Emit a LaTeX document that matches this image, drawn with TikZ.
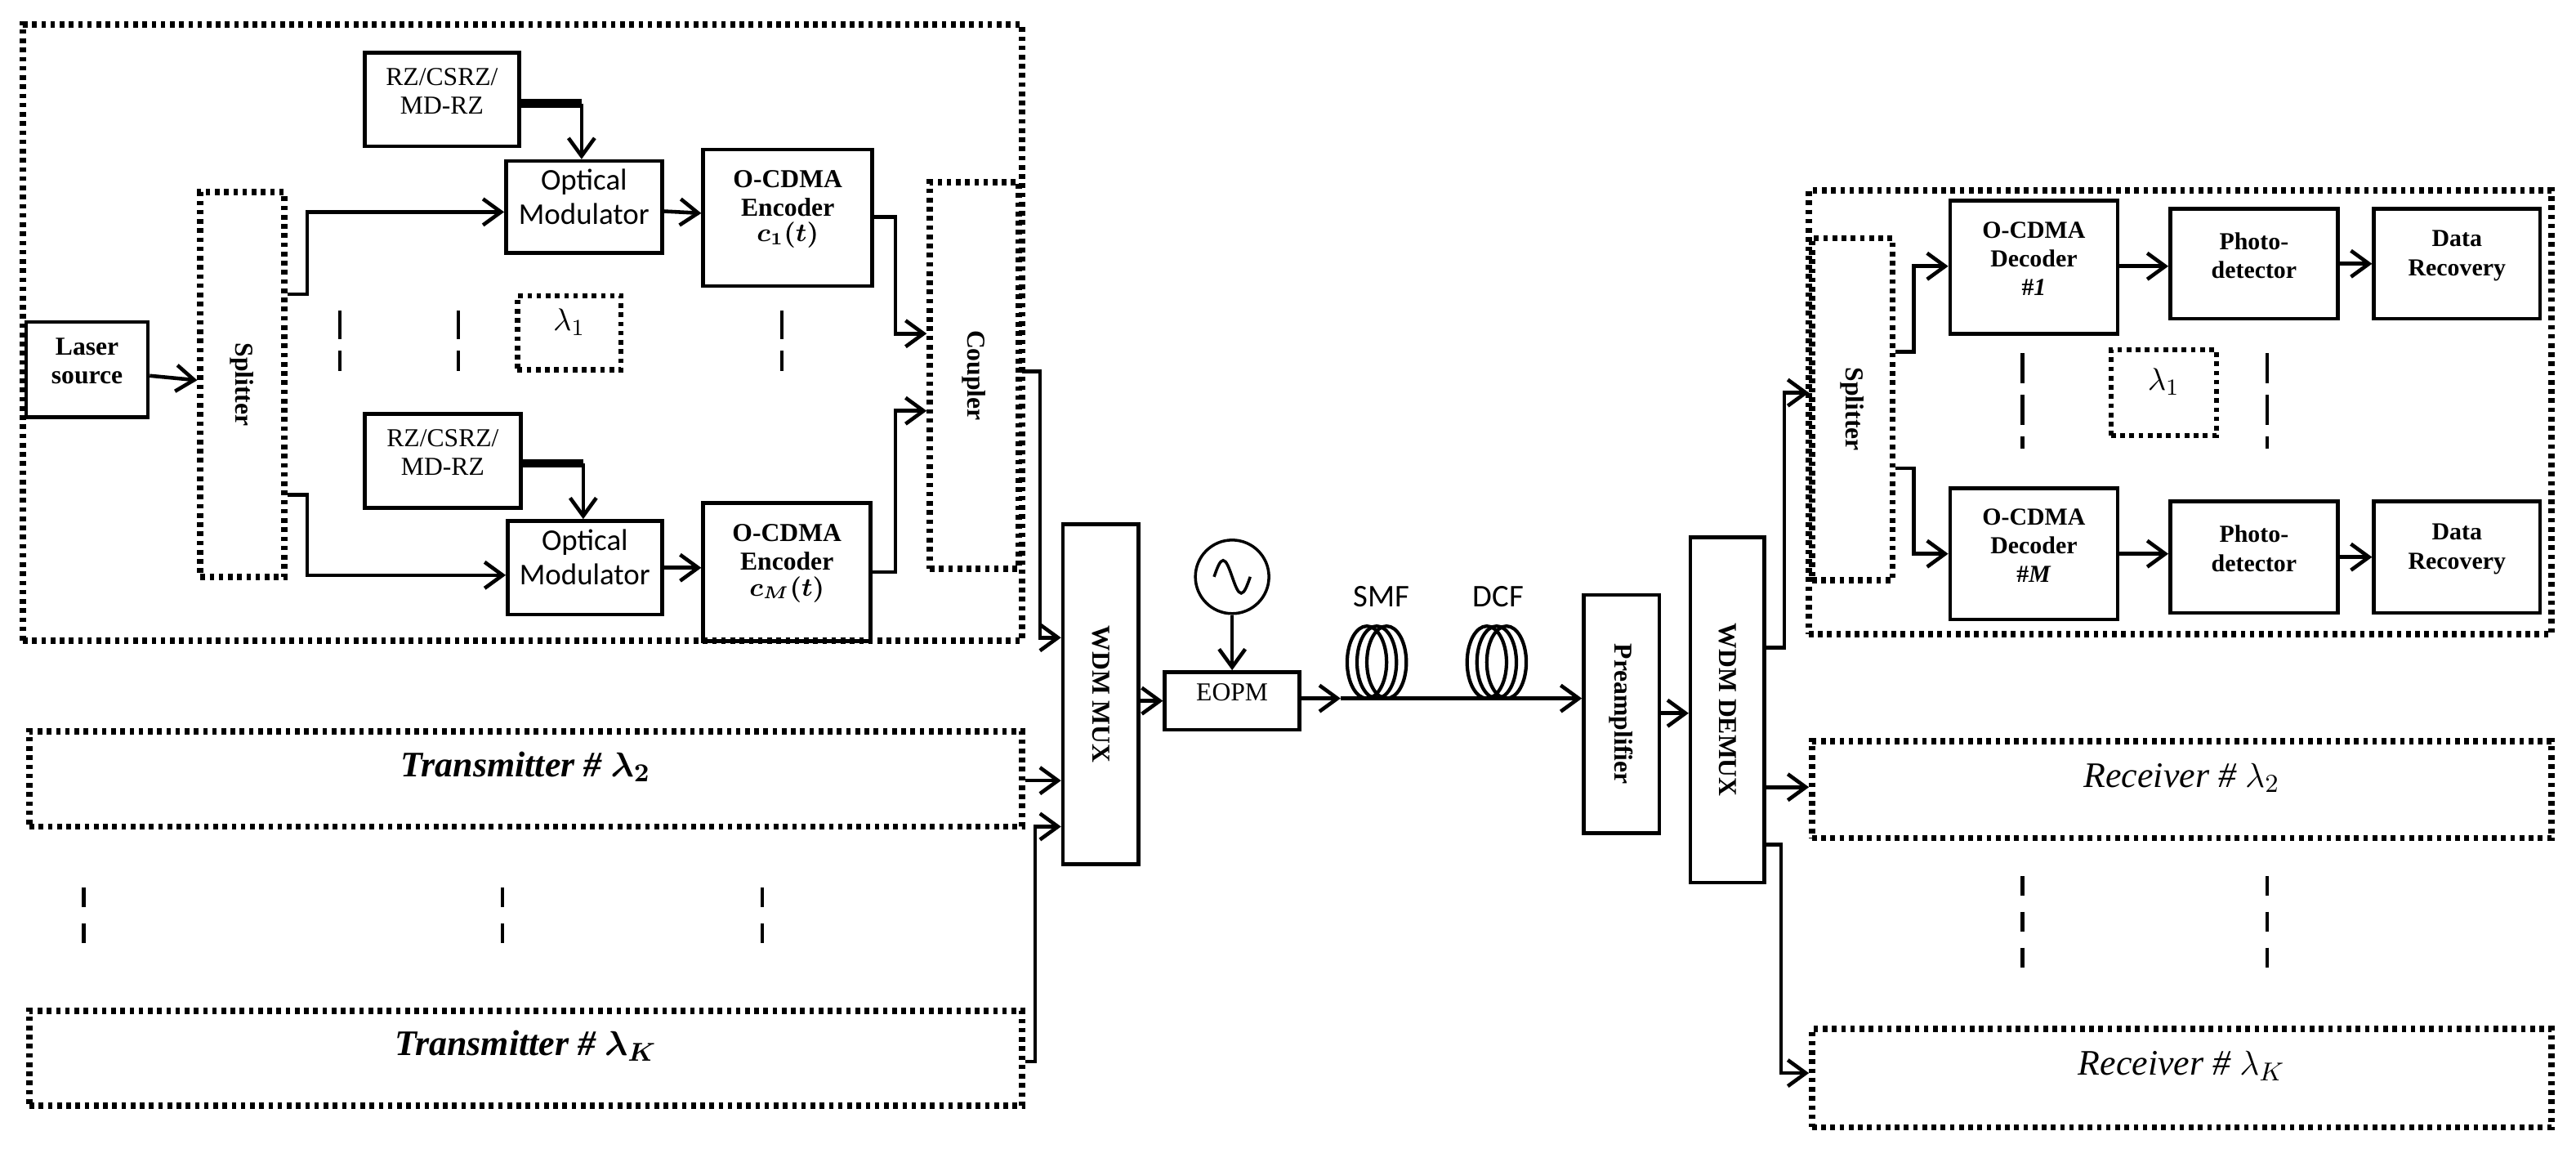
\documentclass[tikz,border=0pt]{standalone}
\usepackage{fontspec}
\setmainfont{Liberation Serif}
\newfontfamily\calib{Carlito}
\usepackage{amsmath,bm}
\usetikzlibrary{arrows.meta,fit}

\begin{document}
\begin{tikzpicture}[x=0.02011cm,y=-0.02011cm,
  box/.style={draw,line width=1.3pt,inner sep=0pt,align=center,font=\bfseries\fontsize{9}{10}\selectfont},
  dbox/.style={draw,line width=2.2pt,dash pattern=on 1.6pt off 1.6pt,inner sep=0pt,align=center},
  arr/.style={line width=1.3pt,-{Straight Barb[length=2.2mm,width=3.2mm,line width=1.3pt]}},
  dsh/.style={line width=1.2pt,dash pattern=on 10pt off 4pt},
  dshb/.style={line width=1.2pt,dash pattern=on 7pt off 5.5pt},
  lbl/.style={font=\bfseries\fontsize{9}{10}\selectfont,align=center},
  big/.style={font=\itshape\fontsize{12.5}{14}\selectfont},
  bigb/.style={font=\bfseries\itshape\fontsize{12.5}{14}\selectfont}
]
\useasboundingbox (0,0) rectangle (1568,699);

% ---------- transmitter #1 ----------
\node[dbox,fit={(14,15)(622,390)}] (tx) {};
\node[box,fit={(16,196)(90,254)}] (laser) {Laser\\source};
\node[dbox,fit={(122,117)(173,351)}] (spl) {};
\node[lbl,rotate=-90] (splt) at (spl.center) {Splitter};
\node[box,fit={(222,32)(316,89)},font=\fontsize{9}{10}\selectfont] (rz1) {RZ/CSRZ/\\MD-RZ};
\node[box,fit={(308,98)(403,154)},font=\calib\fontsize{10.5}{12}\selectfont] (om1) {Optical\\Modulator};
\node[box,fit={(428,91)(531,174)}] (enc1) {O-CDMA\\Encoder\\[-1pt]$\bm{c_1(t)}$};
\node[box,fit={(222,252)(317,309)},font=\fontsize{9}{10}\selectfont] (rz2) {RZ/CSRZ/\\MD-RZ};
\node[box,fit={(309,317)(403,374)},font=\calib\fontsize{10.5}{12}\selectfont] (om2) {Optical\\Modulator};
\node[box,fit={(428,306)(530,390)}] (enc2) {O-CDMA\\Encoder\\[-1pt]$\bm{c_M(t)}$};
\node[dbox,fit={(566,111)(620,346)}] (cpl) {};
\node[lbl,rotate=-90] (cplt) at (cpl.center) {Coupler};
\node[dbox,fit={(315,180)(378,225)},line width=1.8pt] (lamA) {\fontsize{11}{12}\selectfont$\lambda_1$};
\foreach \x in {207,279,476} \draw[dsh] (\x,189) -- (\x,226);

\coordinate (s1) at (187,129);
\coordinate (s2) at (187,350);
\coordinate (z1) at (354,63);
\coordinate (z2) at (355,282);
\draw[arr] (laser) -- (spl);
\draw[arr] (spl.east |- 0,179) -| (s1) -- (om1.west |- s1);
\draw[arr] (spl.east |- 0,301) -| (s2) -- (om2.west |- s2);
\draw[line width=3pt] (rz1.east |- z1) -- (z1);
\draw[arr] (z1) -- (z1 |- om1.north);
\draw[line width=3pt] (rz2.east |- z2) -- (z2);
\draw[arr] (z2) -- (z2 |- om2.north);
\draw[arr] (om1) -- (enc1);
\draw[arr] (om2) -- (enc2.west |- om2);
\coordinate (c1) at (545,132);
\coordinate (c2) at (545,348);
\draw[arr] (enc1.east |- c1) -- (c1) |- (cpl.west |- 0,203);
\draw[arr] (enc2.east |- c2) -- (c2) |- (cpl.west |- 0,250);

% ---------- other transmitters ----------
\node[dbox,fit={(18,445)(622,503)},bigb] (tx2) {Transmitter \# $\bm{\lambda_2}$};
\node[dbox,fit={(18,615)(622,673)},bigb] (txk) {Transmitter \# $\bm{\lambda_K}$};
\foreach \x in {51,306,464} \draw[dshb] (\x,540) -- (\x,577);

% ---------- link ----------
\node[box,fit={(647,319)(693,526)}] (mux) {};
\node[lbl,rotate=-90] (muxt) at (mux.center) {WDM MUX};
\coordinate (m1) at (633,226);
\coordinate (m3) at (630,646);
\draw[arr] (cpl.east |- m1) -- (m1) |- (mux.west |- 0,388);
\draw[arr] (tx2.east |- 0,475) -- (mux.west |- 0,475);
\draw[arr] (txk.east |- m3) -- (m3) |- (mux.west |- 0,503);

\node[box,fit={(709,409)(791,444)},font=\fontsize{9}{10}\selectfont] (eopm) {EOPM};
\node[draw,circle,line width=1pt,inner sep=0pt,minimum size=0.9cm] (osc) at (750,351) {};
\draw[line width=1pt] (739,351) sin (744.5,341) cos (750,351) sin (755.5,361) cos (761,351);
\draw[arr,line width=1pt] (osc) -- (eopm);
\draw[arr] (mux.east |- eopm) -- (eopm);

\node[box,fit={(964,362)(1010,507)}] (pre) {};
\node[lbl,rotate=-90] (pret) at (pre.center) {Preamplifier};
\coordinate (f0) at (816,425);
\draw[arr] (eopm.east |- f0) -- (f0);
\draw[arr] (f0) -- (pre.west |- f0);
\foreach \cx in {838,911}
  \foreach \dx in {-6,0,6}
    \draw[line width=1.2pt] (\cx+\dx,403) ellipse (12 and 22);
\node[font=\calib\fontsize{11}{12}\selectfont] (smf) at (841,363) {SMF};
\node[font=\calib\fontsize{11}{12}\selectfont] (dcf) at (912,363) {DCF};

\node[box,fit={(1029,327)(1074,537)}] (dmx) {};
\node[lbl,rotate=-90] (dmxt) at (dmx.center) {WDM DEMUX};
\draw[arr] (pre.east |- 0,434) -- (dmx.west |- 0,434);

% ---------- receiver #1 ----------
\node[dbox,fit={(1101,116)(1553,386)}] (rx) {};
\node[dbox,fit={(1103,145)(1152,353)}] (rspl) {};
\node[lbl,rotate=-90] (rsplt) at (rspl.center) {Splitter};
\node[box,fit={(1187,122)(1289,203)},font=\fontsize{8.5}{10}\selectfont\bfseries] (dec1) {O-CDMA\\Decoder\\\#\textit{1}};
\node[box,fit={(1321,127)(1423,194)},font=\fontsize{8.5}{10}\selectfont\bfseries] (pd1) {Photo-\\detector};
\node[box,fit={(1445,127)(1546,194)},font=\fontsize{8.5}{10}\selectfont\bfseries] (dr1) {Data\\Recovery};
\node[box,fit={(1187,297)(1289,377)},font=\fontsize{8.5}{10}\selectfont\bfseries] (dec2) {O-CDMA\\Decoder\\\#\textit{M}};
\node[box,fit={(1321,305)(1423,373)},font=\fontsize{8.5}{10}\selectfont\bfseries] (pd2) {Photo-\\detector};
\node[box,fit={(1445,305)(1546,373)},font=\fontsize{8.5}{10}\selectfont\bfseries] (dr2) {Data\\Recovery};
\node[dbox,fit={(1285,213)(1349,265)},line width=1.8pt] (lamB) {\fontsize{11}{12}\selectfont$\lambda_1$};
\foreach \x in {1231,1380} \draw[dshb,dash pattern=on 10.5pt off 4pt] (\x,215) -- (\x,273);

\coordinate (d1) at (1086,394);
\coordinate (d3) at (1084,514);
\draw[arr] (dmx.east |- d1) -- (d1) |- (rspl.west |- 0,239);
\coordinate (r1) at (1165,214);
\coordinate (r2) at (1165,285);
\draw[arr] (rspl.east |- r1) -- (r1) |- (dec1.west |- 0,162);
\draw[arr] (rspl.east |- r2) -- (r2) |- (dec2.west |- 0,337);
\draw[arr] (dec1.east |- 0,162) -- (pd1.west |- 0,162);
\draw[arr] (pd1) -- (dr1);
\draw[arr] (dec2.east |- 0,337) -- (pd2.west |- 0,337);
\draw[arr] (pd2) -- (dr2);

% ---------- other receivers ----------
\node[dbox,fit={(1103,451)(1553,510)},big] (rx2) {Receiver \# $\lambda_2$};
\node[dbox,fit={(1103,626)(1553,686)},big] (rxk) {Receiver \# $\lambda_K$};
\foreach \x in {1231,1380} \draw[dshb] (\x,533) -- (\x,592);
\draw[arr] (dmx.east |- 0,479) -- (rx2.west |- 0,479);
\draw[arr] (dmx.east |- d3) -- (d3) |- (rxk.west |- 0,653);
\end{tikzpicture}
\end{document}
